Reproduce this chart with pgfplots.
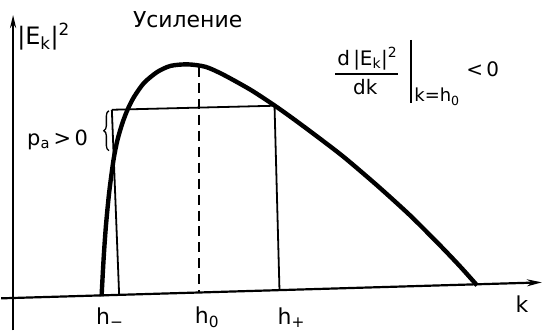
\documentclass[border=0pt]{standalone}
\usepackage{fontspec}
\setmainfont{DejaVu Sans}
\usepackage{pgfplots}
\pgfplotsset{compat=1.18}
\usetikzlibrary{decorations.pathreplacing, arrows.meta}

\begin{document}
\begin{tikzpicture}
\begin{axis}[x=1pt, y=1pt, xmin=0, xmax=543, ymin=0, ymax=331,
  hide axis, clip=false]
% frame corners (invisible) to fix the picture size
\addplot[draw=none] coordinates {(0,0) (543,331)};
% axes
\addplot[line width=2.2pt, -{Stealth[length=13pt,width=6pt]}]
  coordinates {(12,0) (12,316)};
\addplot[line width=2.2pt, -{Stealth[length=15pt,width=7pt]}]
  coordinates {(0,32) (542,48)};
% spectrum |E_k|^2 versus k
\addplot[line width=4.4pt, smooth, tension=0.45] coordinates {
  (100.7,34) (102.7,71) (105,104) (108.3,138) (112.7,171) (116.7,191)
  (121.7,208) (126.7,221) (133.3,234) (143.3,248) (156.7,259) (170,265)
  (187,266.5) (205,264) (223,256) (250,241)
  (273,226) (290,214) (313,197) (343,174) (377,145) (410,115)
  (440,85) (460,64) (477,45)
};
% level line and the two wave numbers h_- , h_+
\addplot[line width=1.8pt] coordinates {(111,221) (273,225) (274,226)};
\addplot[line width=1.8pt] coordinates {(111,221) (118.3,35.5)};
\addplot[line width=1.8pt] coordinates {(274,226) (279,40.2)};
% maximum at h_0
\addplot[line width=2.2pt, dash pattern=on 10pt off 6pt] coordinates {(198,264) (198,37.8)};
% brace for the gain
\draw[line width=1.3pt, decorate, decoration={brace, amplitude=5pt}]
  (axis cs:108,180) -- (axis cs:108,220);

% labels
\node[anchor=west, inner sep=0pt] at (axis cs:16,294)
  {\fontsize{24}{26}\selectfont |E\textsubscript{k}|\textsuperscript{2}};
\node[inner sep=0pt] at (axis cs:187,311)
  {\fontsize{22}{24}\selectfont Усиление};
\node[anchor=west, inner sep=0pt] at (axis cs:26,191)
  {\fontsize{21}{22}\selectfont p\textsubscript{a}\,>\,0};
% derivative condition
\node[inner sep=0pt] at (axis cs:367,272)
  {\fontsize{20}{22}\selectfont d\,|E\textsubscript{k}|\textsuperscript{2}};
\draw[line width=1.4pt] (axis cs:335,257) -- (axis cs:398,257);
\node[inner sep=0pt] at (axis cs:365,244)
  {\fontsize{20}{22}\selectfont dk};
\draw[line width=1.6pt] (axis cs:411,291) -- (axis cs:411,228);
\node[anchor=west, inner sep=0pt] at (axis cs:414,234)
  {\fontsize{18}{20}\selectfont k=h\textsubscript{0}};
\node[anchor=west, inner sep=0pt] at (axis cs:466,262)
  {\fontsize{20}{22}\selectfont <\,0};
% wave-number ticks and axis name
\node[anchor=west, inner sep=0pt] at (axis cs:95,13)
  {\fontsize{22}{24}\selectfont h\textsubscript{−}};
\node[anchor=west, inner sep=0pt] at (axis cs:194,13)
  {\fontsize{22}{24}\selectfont h\textsubscript{0}};
\node[anchor=west, inner sep=0pt] at (axis cs:277,13)
  {\fontsize{22}{24}\selectfont h\textsubscript{+}};
\node[inner sep=0pt] at (axis cs:522,26)
  {\fontsize{22}{24}\selectfont k};
\end{axis}
\end{tikzpicture}
\end{document}
